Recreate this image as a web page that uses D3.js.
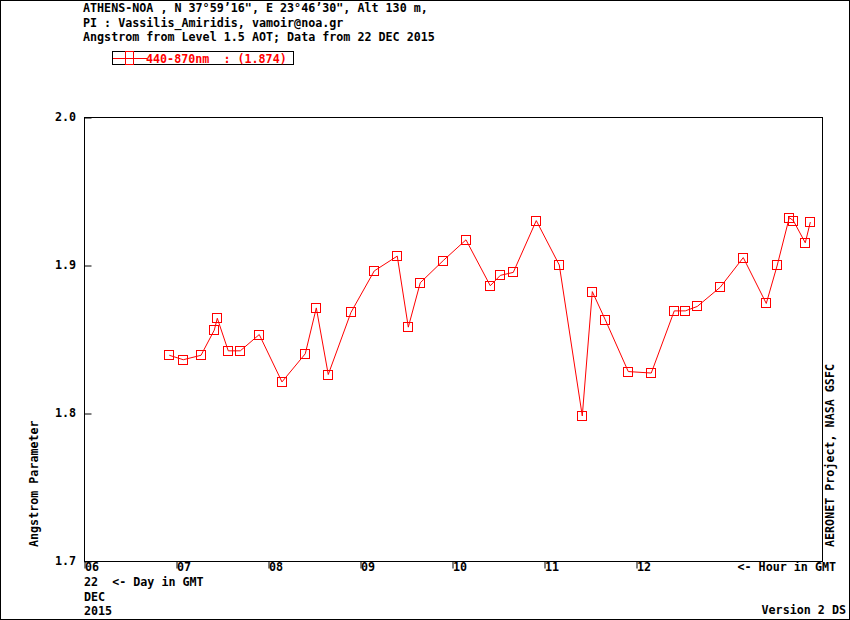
<!DOCTYPE html>
<html>
<head>
<meta charset="utf-8">
<script src="https://cdn.jsdelivr.net/npm/d3@7"></script>
<style>
  html, body { margin: 0; padding: 0; background: #fff; }
  svg { display: block; }
  text { font-family: "DejaVu Sans Mono", "Liberation Mono", monospace; font-weight: bold; font-size: 11.7px; fill: #000; white-space: pre; }
</style>
</head>
<body>
<svg id="chart" width="850" height="620"></svg>
<script>
// ---- data (hour of day GMT, Angstrom 440-870nm) ----
const hours = [6.927, 7.079, 7.272, 7.416, 7.449, 7.568, 7.699, 7.905, 8.152, 8.405,
               8.525, 8.655, 8.902, 9.155, 9.405, 9.525, 9.655, 9.905, 10.152, 10.416,
               10.525, 10.666, 10.916, 11.166, 11.416, 11.525, 11.666, 11.916, 12.166, 12.416,
               12.536, 12.666, 12.916, 13.166, 13.416, 13.536, 13.666, 13.710, 13.840, 13.895];
const angstrom = [1.839, 1.836, 1.839, 1.856, 1.864, 1.842, 1.842, 1.853, 1.821, 1.840,
                  1.871, 1.826, 1.868, 1.896, 1.906, 1.858, 1.888, 1.903, 1.917, 1.886,
                  1.893, 1.895, 1.930, 1.900, 1.798, 1.882, 1.863, 1.828, 1.827, 1.869,
                  1.869, 1.872, 1.885, 1.905, 1.874, 1.900, 1.932, 1.930, 1.915, 1.929];
const xTickValues = [6, 7, 8, 9, 10, 11, 12];
const xTickLabels = ["06", "07", "08", "09", "10", "11", "12"];
const yTickValues = [1.7, 1.8, 1.9, 2.0];
const yTickLabels = ["1.7", "1.8", "1.9", "2.0"];
const headerLines = [
  "ATHENS-NOA , N 37°59’16\", E 23°46’30\", Alt 130 m,",
  "PI : Vassilis_Amiridis, vamoir@noa.gr",
  "Angstrom from Level 1.5 AOT; Data from 22 DEC 2015"
];
const legendLabel = "440-870nm  : (1.874)";
const red = "#ff0000";

const svg = d3.select("#chart");
const plotL = 84, plotR = 822, plotT = 117, plotB = 561;

const x = d3.scaleLinear().domain([6, 6 + (plotR - plotL) / 92]).range([plotL, plotR]);
const y = d3.scaleLinear().domain([1.7, 2.0]).range([plotB, plotT]);

// outer frame
svg.append("rect").attr("x", 0.5).attr("y", 0.5).attr("width", 849).attr("height", 619)
  .attr("fill", "none").attr("stroke", "#000").attr("stroke-width", 1);

// header
svg.selectAll("text.hdr").data(headerLines).join("text")
  .attr("class", "hdr").attr("x", 83).attr("y", (d, i) => [12, 27, 41][i]).text(d => d);

// legend
const lg = svg.append("g");
lg.append("rect").attr("x", 112.5).attr("y", 51.5).attr("width", 181).attr("height", 13)
  .attr("fill", "none").attr("stroke", "#000");
lg.append("line").attr("x1", 113).attr("x2", 147).attr("y1", 58.5).attr("y2", 58.5)
  .attr("stroke", red);
lg.append("rect").attr("x", 125.5).attr("y", 51.5).attr("width", 8).attr("height", 13)
  .attr("fill", "none").attr("stroke", red);
lg.append("text").attr("x", 146).attr("y", 62.5).style("fill", red).text(legendLabel);

// plot frame
svg.append("rect").attr("x", plotL + 0.5).attr("y", plotT + 0.5)
  .attr("width", plotR - plotL).attr("height", plotB - plotT)
  .attr("fill", "none").attr("stroke", "#000");

// y axis (inside ticks)
const yAxis = d3.axisRight(y).tickValues(yTickValues)
  .tickFormat(() => "").tickSize(7).tickSizeOuter(0);
const gy = svg.append("g").attr("transform", `translate(${plotL + 0.5},0.5)`).call(yAxis);
gy.select(".domain").remove();
gy.selectAll(".tick line").attr("stroke", "#000");
svg.selectAll("text.ylab").data(yTickValues).join("text")
  .attr("class", "ylab").attr("x", 76).attr("y", d => y(d) + 4)
  .attr("text-anchor", "end").text((d, i) => yTickLabels[i]);

// x axis ticks downward
const xAxis = d3.axisBottom(x).tickValues(xTickValues).tickFormat(() => "").tickSize(7).tickSizeOuter(0);
const gx = svg.append("g").attr("transform", `translate(0.5,${plotB + 0.5})`).call(xAxis);
gx.select(".domain").remove();
gx.selectAll(".tick line").attr("stroke", "#000");
svg.selectAll("text.xlab").data(xTickValues).join("text")
  .attr("class", "xlab").attr("x", d => x(d) + 1).attr("y", 571)
  .text((d, i) => xTickLabels[i]);

svg.append("text").attr("x", 836).attr("y", 571).attr("text-anchor", "end").text("<- Hour in GMT");
svg.append("text").attr("x", 84).attr("y", 586).text("22  <- Day in GMT");
svg.append("text").attr("x", 84).attr("y", 601).text("DEC");
svg.append("text").attr("x", 84).attr("y", 615).text("2015");
svg.append("text").attr("x", 846).attr("y", 614).attr("text-anchor", "end").text("Version 2 DS");

// rotated labels
svg.append("text").attr("transform", "translate(38,547) rotate(-90)").text("Angstrom Parameter");
svg.append("text").attr("transform", "translate(834,547) rotate(-90)").text("AERONET Project, NASA GSFC");

// data
const pts = hours.map((h, i) => [h, angstrom[i]]);
svg.append("path").datum(pts)
  .attr("d", d3.line().x(d => x(d[0])).y(d => y(d[1])))
  .attr("fill", "none").attr("stroke", red).attr("stroke-width", 1);
svg.selectAll("rect.pt").data(pts).join("rect")
  .attr("class", "pt")
  .attr("x", d => Math.round(x(d[0])) - 4.5).attr("y", d => Math.round(y(d[1])) - 4.5)
  .attr("width", 9).attr("height", 9)
  .attr("fill", "none").attr("stroke", red).attr("stroke-width", 1);
</script>
</body>
</html>
